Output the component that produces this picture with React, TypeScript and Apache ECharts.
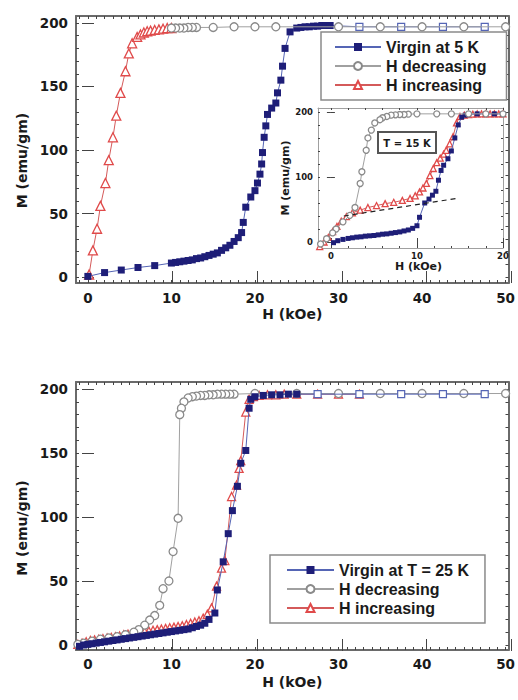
import React, { useEffect, useRef } from 'react';
import * as echarts from 'echarts';

// ---------- Top panel (T = 5 K) ----------
const virgin5H = [0, 2, 4, 6, 8, 10, 10.5, 11, 11.5, 12, 12.5, 13, 13.5, 14, 14.5, 15, 15.5, 16, 16.5, 17, 17.5, 18, 18.4, 18.6, 18.9, 19.5, 20, 20.3, 20.6, 20.8, 20.9, 21.1, 21.3, 21.5, 22, 22.5, 22.7, 23.1, 23.3, 23.6, 24.2, 25, 25.5, 26, 26.5, 27, 27.5, 28, 28.5, 29];
const virgin5M = [0.5, 3.5, 5.5, 7.5, 9, 11, 11.5, 12, 12.5, 13, 13.5, 14.5, 15, 16, 17, 18, 19, 21, 23, 25, 28, 31, 35, 43, 55, 63, 68, 74, 81, 89, 98, 110, 119, 128, 133, 137, 145, 155, 166, 180, 193, 196, 196.5, 197, 197, 197.5, 197.5, 198, 198, 198];
const virgin5HighH = [32.5, 37.5, 42.5, 47.5];
const virgin5HighM = [197, 197, 197, 197];
const dec5H = [50, 45, 40, 35, 30, 22.5, 20, 17.5, 15, 13, 12.5, 12, 11.5, 11, 10.5, 10];
const dec5M = [197, 197, 197, 197, 197, 197, 197, 197, 196.5, 196.5, 196.5, 196.5, 196, 196, 196, 196];
const inc5H = [0.15, 0.6, 1.1, 1.5, 2.1, 2.5, 3, 3.4, 3.9, 4.5, 4.9, 5.3, 5.9, 6.3, 6.7, 7.1, 7.5, 8, 8.5, 9, 9.5, 10];
const inc5M = [2, 21, 38, 56, 74, 92, 110, 127, 145, 162, 176, 184, 189, 191, 192.5, 193.5, 194, 194.5, 195, 195.5, 196, 196];

// ---------- Inset (T = 15 K) ----------
const virgin15H = [0.3, 0.8, 1.4, 2, 2.5, 3, 3.5, 4, 4.5, 5, 5.5, 6, 6.5, 7, 7.5, 8, 8.5, 9, 9.5, 10, 10.3, 10.9, 11.4, 11.8, 12.2, 12.5, 12.8, 13.1, 13.6, 14, 14.4, 14.8, 15.2, 15.6, 16, 17, 18, 19, 20];
const virgin15M = [-1, 2, 4, 5.5, 6.5, 7.5, 8, 9, 9.5, 10, 11, 12, 12.5, 13.5, 14.5, 15.5, 17, 18.5, 21, 25, 38, 60, 66, 72, 78, 95, 110, 118, 128, 140, 160, 180, 192, 195, 196, 197, 197, 197, 197];
const dec15H = [20, 18, 16, 14, 12.3, 10, 9, 8.5, 8, 7.5, 7, 6.5, 6, 5.7, 5.1, 4.7, 4.3, 4.1, 3.6, 3.4, 2.8, 2.2, 1.4, 0.6, 0.2, -0.5, -1.2];
const dec15M = [197, 197, 197, 197, 197, 197, 196.5, 196, 196, 195.5, 195, 193, 191, 188, 183, 172, 160, 141, 108, 90, 53, 41, 31, 20, 14, 5, -3];
const inc15H = [-1.3, -0.8, -0.3, 0.2, 0.7, 1.2, 1.8, 2.5, 3.4, 4.3, 5.3, 6.3, 7.3, 8.3, 9.2, 9.8, 10.3, 10.7, 11.1, 11.5, 11.9, 12.3, 12.7, 13.1, 13.4, 13.8, 14.2, 14.6, 15, 15.5, 16, 16.5, 17, 17.5, 18, 18.5, 19, 19.5, 20];
const inc15M = [-7, 0, 7, 16, 24, 32, 39, 45, 49, 53, 56, 59, 61, 64, 67, 71, 77, 83, 90, 102, 113, 122, 129, 135, 141, 151, 162, 183, 193, 195, 196, 196.5, 197, 197, 197, 197, 197, 197, 197];
const fit15H = [1.5, 14.6];
const fit15M = [40, 67];

// ---------- Bottom panel (T = 25 K) ----------
const virgin25H = [-1, -0.5, 0, 0.5, 1, 1.5, 2, 2.5, 3, 3.5, 4, 4.5, 5, 5.5, 6, 6.5, 7, 7.5, 8, 8.5, 9, 9.5, 10, 10.5, 11, 11.5, 12, 12.5, 13, 13.5, 14, 14.5, 15.2, 15.5, 16.2, 16.8, 17.3, 17.9, 18.3, 18.9, 19.3, 19.5, 20, 21, 22, 23, 24, 25];
const virgin25M = [-1, 0, 0.5, 1, 1.5, 2, 2.5, 3, 3.5, 4, 4.5, 5, 5.5, 6, 6.5, 7, 7.5, 8, 8.5, 9, 9.5, 10, 10.5, 11, 11.5, 12, 12.5, 13.5, 14.5, 15.5, 17, 20, 25, 43, 65, 87, 105, 124, 142, 152, 185, 192, 194, 195, 195.5, 195.5, 196, 196];
const virgin25HighH = [27.5, 32.5, 37.5, 42.5, 47.5];
const virgin25HighM = [196, 196, 196, 196, 196];
const dec25H = [50, 45, 40, 35, 30, 25, 20, 17.5, 17, 16.5, 16, 15.5, 15, 14.5, 14, 13.5, 13, 12.5, 12, 11.5, 11.2, 11, 10.8, 10.2, 9.7, 9, 8.6, 8, 7.4, 6.8, 6.1, 5.5, 4.5, 3.5, 2.5, 1.5, 0.5, -0.5, -1.2];
const dec25M = [196.5, 196.5, 196.5, 196.5, 196.5, 196.5, 196.5, 196, 196, 196, 196, 196, 195.5, 195.5, 195, 195, 194.5, 194, 193, 190, 185, 180, 99, 73, 50, 44, 31, 23, 19.5, 15.5, 12, 10, 8, 6.5, 5.5, 4.5, 3, 1.5, 0.5];
const inc25H = [-1.2, -0.7, -0.2, 0.3, 0.8, 1.3, 1.8, 2.3, 2.8, 3.3, 3.8, 4.3, 4.8, 5.3, 5.8, 6.3, 6.8, 7.3, 7.8, 8.3, 8.8, 9.3, 9.8, 10.3, 10.8, 11.3, 11.8, 12.3, 12.8, 13.3, 13.8, 14.3, 14.8, 15.4, 16, 16.4, 17.2, 17.8, 18.1, 18.3, 18.9, 19.3, 19.8, 20.5, 21.5, 22.5, 23.5, 25, 27.5, 30, 32.5];
const inc25M = [0.5, 1.5, 2.5, 3.5, 4, 4.5, 5, 5.5, 6, 6.5, 7, 8, 8.5, 9, 9.5, 10, 10.5, 11, 11.5, 12, 12.5, 13, 13.5, 14, 14.5, 15, 16, 17, 18, 19, 21, 24, 29, 46, 60, 66, 116, 125, 138, 144, 182, 192, 194, 195, 195.5, 195.5, 196, 196, 196, 196, 196];

// ---------- Tick labels ----------
const mainXTicks = [0, 10, 20, 30, 40, 50];
const mainYTicks = [0, 50, 100, 150, 200];
const insetXTicks = [0, 10, 20];
const insetYTicks = [0, 100, 200];

const legendTop = ['Virgin at 5 K', 'H decreasing', 'H increasing'];
const legendBottom = ['Virgin at T = 25 K', 'H decreasing', 'H increasing'];

// ---------- styles ----------
const NAVY = '#1e1e78';
const BLUE_LINE = '#5565b5';
const GRAY = '#8a8a8a';
const GRAY_LINE = '#a0a0a0';
const RED = '#e04a4a';
const RED_LINE = '#d45a5a';
const FONT = 'DejaVu Sans';

function steps(a: number, b: number, s: number) {
  const r: number[] = [];
  for (let v = a; v <= b + 1e-9; v += s) r.push(Math.round(v * 1000) / 1000);
  return r;
}
function pts(h: number[], m: number[]) {
  return h.map((x, i) => [x, m[i]]);
}

interface PanelSpec {
  left: number; top: number; width: number; height: number;
  xMin: number; xMax: number; yMin: number; yMax: number;
  xMajor: number[]; xMinor: number[]; yMajor: number[]; yMinor: number[];
  majorLen: number; minorLen: number; frame: string; frameWidth: number;
  labelSize: number; xLabelMargin: number; yLabelMargin: number;
  nameSize: number; xNameGap: number; yNameGap: number;
  xNamePad: number[]; yNamePad: number[];
  bg?: string;
}

function buildPanel(s: PanelSpec, grids: any[], xAxes: any[], yAxes: any[]) {
  const g = grids.length;
  grids.push({ left: s.left, top: s.top, width: s.width, height: s.height, show: !!s.bg, backgroundColor: s.bg || 'transparent', borderWidth: 0 });
  grids.push({ left: s.left, top: s.top, width: s.width, height: s.height, show: false });
  const tickStyle = { color: '#444', width: 1 };
  const line = { show: true, onZero: false, lineStyle: { color: s.frame, width: s.frameWidth } };
  const labelStyle = { fontFamily: FONT, fontWeight: 'bold', fontSize: s.labelSize, color: '#1a1a1a' };
  const nameStyle = { fontFamily: FONT, fontWeight: 'bold', fontSize: s.nameSize, color: '#1a1a1a' };
  const xBase = { type: 'value', min: s.xMin, max: s.xMax, splitLine: { show: false }, silent: true };
  const yBase = { type: 'value', min: s.yMin, max: s.yMax, splitLine: { show: false }, silent: true };
  const xi = xAxes.length;
  const yi = yAxes.length;
  xAxes.push({
    ...xBase, gridIndex: g, position: 'bottom', axisLine: line,
    axisTick: { show: true, inside: true, length: s.minorLen, customValues: s.xMinor, lineStyle: tickStyle },
    axisLabel: { show: true, customValues: s.xMajor, margin: s.xLabelMargin, ...labelStyle },
    name: 'H (kOe)', nameLocation: 'middle', nameGap: s.xNameGap,
    nameTextStyle: { ...nameStyle, padding: s.xNamePad },
  });
  xAxes.push({
    ...xBase, gridIndex: g, position: 'top', axisLine: line,
    axisTick: { show: true, inside: true, length: s.minorLen, customValues: s.xMinor, lineStyle: tickStyle },
    axisLabel: { show: false },
  });
  yAxes.push({
    ...yBase, gridIndex: g, position: 'left', axisLine: line,
    axisTick: { show: true, inside: true, length: s.minorLen, customValues: s.yMinor, lineStyle: tickStyle },
    axisLabel: { show: true, customValues: s.yMajor, margin: s.yLabelMargin, ...labelStyle },
    name: 'M (emu/gm)', nameLocation: 'middle', nameGap: s.yNameGap,
    nameTextStyle: { ...nameStyle, padding: s.yNamePad },
  });
  yAxes.push({
    ...yBase, gridIndex: g, position: 'right', axisLine: line,
    axisTick: { show: true, inside: true, length: s.minorLen, customValues: s.yMinor, lineStyle: tickStyle },
    axisLabel: { show: false },
  });
  // major ticks (longer), same rectangle
  for (const pos of ['bottom', 'top']) {
    xAxes.push({
      ...xBase, gridIndex: g + 1, position: pos, axisLine: { show: false },
      axisTick: { show: true, inside: true, length: s.majorLen, customValues: s.xMajor, lineStyle: tickStyle },
      axisLabel: { show: false },
    });
  }
  for (const pos of ['left', 'right']) {
    yAxes.push({
      ...yBase, gridIndex: g + 1, position: pos, axisLine: { show: false },
      axisTick: { show: true, inside: true, length: s.majorLen, customValues: s.yMajor, lineStyle: tickStyle },
      axisLabel: { show: false },
    });
  }
  return { xAxisIndex: xi, yAxisIndex: yi };
}

function virginSeries(name: string, ax: any, h: number[], m: number[], hh: number[], hm: number[], size: number) {
  const data: any[] = pts(h, m);
  pts(hh, hm).forEach((p) => data.push({ value: p, symbol: 'rect', itemStyle: { color: '#fff', borderColor: BLUE_LINE, borderWidth: 1.2 } }));
  return {
    type: 'line', name, ...ax, data, symbol: 'rect', symbolSize: size,
    itemStyle: { color: NAVY }, lineStyle: { color: BLUE_LINE, width: 1 }, z: 3,
  };
}
function decSeries(ax: any, h: number[], m: number[], size: number) {
  return {
    type: 'line', name: 'H decreasing', ...ax, data: pts(h, m), symbol: 'circle', symbolSize: size,
    itemStyle: { color: '#fff', borderColor: GRAY, borderWidth: 1.3 }, lineStyle: { color: GRAY_LINE, width: 1 }, z: 4,
  };
}
function incSeries(ax: any, h: number[], m: number[], size: number) {
  return {
    type: 'line', name: 'H increasing', ...ax, data: pts(h, m), symbol: 'triangle', symbolSize: size,
    itemStyle: { color: '#fff', borderColor: RED, borderWidth: 1.3 }, lineStyle: { color: RED_LINE, width: 1 }, z: 2,
  };
}

export default function App() {
  const ref = useRef<HTMLDivElement>(null);
  useEffect(() => {
    if (!ref.current) return;
    const chart = echarts.init(ref.current, undefined, { renderer: 'svg' });
    const grids: any[] = [];
    const xAxes: any[] = [];
    const yAxes: any[] = [];

    const top = buildPanel({
      left: 76, top: 16, width: 438, height: 267,
      xMin: -1.42, xMax: 50.35, yMin: -4.7, yMax: 205.5,
      xMajor: mainXTicks, xMinor: steps(-1, 50, 1), yMajor: mainYTicks, yMinor: steps(0, 200, 10),
      majorLen: 6, minorLen: 3, frame: '#6a6a6a', frameWidth: 2,
      labelSize: 13.5, xLabelMargin: 8, yLabelMargin: 8,
      nameSize: 14, xNameGap: 24, yNameGap: 47, xNamePad: [0, 0, 0, 0], yNamePad: [0, 22, 0, 0],
    }, grids, xAxes, yAxes);

    const bottom = buildPanel({
      left: 76, top: 382, width: 438, height: 268,
      xMin: -1.42, xMax: 50.35, yMin: -3.9, yMax: 205.5,
      xMajor: mainXTicks, xMinor: steps(-1, 50, 1), yMajor: mainYTicks, yMinor: steps(0, 200, 10),
      majorLen: 6, minorLen: 3, frame: '#6a6a6a', frameWidth: 2,
      labelSize: 13.5, xLabelMargin: 7, yLabelMargin: 8,
      nameSize: 14, xNameGap: 25, yNameGap: 47, xNamePad: [0, 0, 0, 0], yNamePad: [0, 24, 0, 0],
    }, grids, xAxes, yAxes);

    const inset = buildPanel({
      left: 318, top: 108, width: 185, height: 140,
      xMin: -1.5, xMax: 20, yMin: -9.2, yMax: 206,
      xMajor: insetXTicks, xMinor: steps(0, 20, 2), yMajor: insetYTicks, yMinor: steps(0, 200, 20),
      majorLen: 4, minorLen: 2, frame: '#a0a0a0', frameWidth: 1,
      labelSize: 8.5, xLabelMargin: 3, yLabelMargin: 5,
      nameSize: 11, xNameGap: 13, yNameGap: 22, xNamePad: [0, 0, 0, 16], yNamePad: [0, 0, 0, 0],
      bg: '#ffffff',
    }, grids, xAxes, yAxes);

    const series: any[] = [
      incSeries(top, inc5H, inc5M, 9),
      virginSeries('Virgin at 5 K', top, virgin5H, virgin5M, virgin5HighH, virgin5HighM, 7),
      decSeries(top, dec5H, dec5M, 8),

      incSeries(inset, inc15H, inc15M, 6),
      decSeries(inset, dec15H, dec15M, 6),
      virginSeries('Virgin at 5 K', inset, virgin15H, virgin15M, [], [], 5),
      {
        type: 'line', name: 'fit', ...inset, data: pts(fit15H, fit15M), symbol: 'none',
        lineStyle: { color: '#222', width: 1.2, type: [5, 4] }, z: 6,
      },

      decSeries(bottom, dec25H, dec25M, 8),
      incSeries(bottom, inc25H, inc25M, 8),
      virginSeries('Virgin at T = 25 K', bottom, virgin25H, virgin25M, virgin25HighH, virgin25HighM, 7),
    ];
    series[series.length - 1].z = 5;

    const legendBase = {
      orient: 'vertical', itemWidth: 46, itemHeight: 10, itemGap: 3, selectedMode: false,
      backgroundColor: '#fff', borderColor: '#8a8a8a', borderWidth: 1.5, borderRadius: 0,
      textStyle: { fontFamily: 'Liberation Sans', fontWeight: 'bold', fontSize: 16, color: '#1a1a1a', lineHeight: 16 },
      z: 8,
    };

    chart.setOption({
      animation: false,
      backgroundColor: '#fff',
      grid: grids,
      xAxis: xAxes,
      yAxis: yAxes,
      legend: [
        { ...legendBase, left: 321, top: 32, data: legendTop, padding: [7, 20, 7, 13] },
        { ...legendBase, left: 270, top: 555, data: legendBottom, padding: [7, 16, 7, 16], itemWidth: 47 },
      ],
      graphic: [
        {
          type: 'rect', z: 20, shape: { x: 378, y: 132, width: 58, height: 21 },
          style: { fill: '#fff', stroke: '#555', lineWidth: 2 },
        },
        {
          type: 'text', z: 21, x: 407, y: 143,
          style: { text: 'T = 15 K', font: 'bold 10px "DejaVu Sans"', fill: '#1a1a1a', align: 'center', verticalAlign: 'middle' },
        },
      ],
      series,
    });
    return () => chart.dispose();
  }, []);
  return <div ref={ref} style={{ position: 'fixed', left: 0, top: 0, width: 518, height: 700, background: '#fff' }} />;
}
